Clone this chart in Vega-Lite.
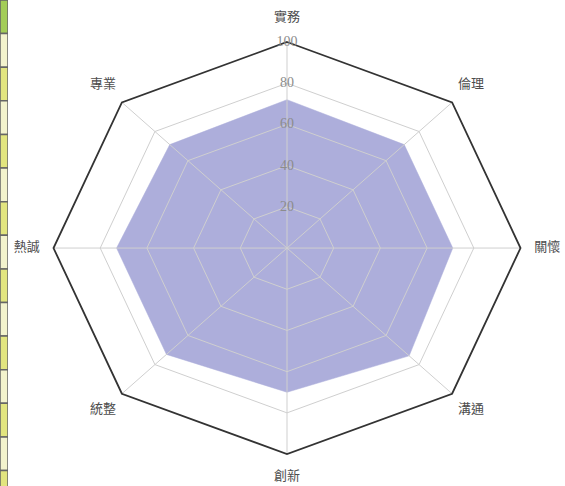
{
  "$schema": "https://vega.github.io/schema/vega-lite/v6.json",
  "padding": 0,
  "background": "white",
  "spacing": 0,
  "config": {"view": {"stroke": null}},
  "datasets": {
    "scores": [
      {"axis": "實務", "k": 0, "score": 72},
      {"axis": "倫理", "k": 1, "score": 71},
      {"axis": "關懷", "k": 2, "score": 71},
      {"axis": "溝通", "k": 3, "score": 74},
      {"axis": "創新", "k": 4, "score": 70},
      {"axis": "統整", "k": 5, "score": 73},
      {"axis": "熱誠", "k": 6, "score": 73},
      {"axis": "專業", "k": 7, "score": 71}
    ],
    "grid": [
      {"k": 0, "level": 20}, {"k": 1, "level": 20}, {"k": 2, "level": 20}, {"k": 3, "level": 20}, {"k": 4, "level": 20}, {"k": 5, "level": 20}, {"k": 6, "level": 20}, {"k": 7, "level": 20},
      {"k": 0, "level": 40}, {"k": 1, "level": 40}, {"k": 2, "level": 40}, {"k": 3, "level": 40}, {"k": 4, "level": 40}, {"k": 5, "level": 40}, {"k": 6, "level": 40}, {"k": 7, "level": 40},
      {"k": 0, "level": 60}, {"k": 1, "level": 60}, {"k": 2, "level": 60}, {"k": 3, "level": 60}, {"k": 4, "level": 60}, {"k": 5, "level": 60}, {"k": 6, "level": 60}, {"k": 7, "level": 60},
      {"k": 0, "level": 80}, {"k": 1, "level": 80}, {"k": 2, "level": 80}, {"k": 3, "level": 80}, {"k": 4, "level": 80}, {"k": 5, "level": 80}, {"k": 6, "level": 80}, {"k": 7, "level": 80},
      {"k": 0, "level": 100}, {"k": 1, "level": 100}, {"k": 2, "level": 100}, {"k": 3, "level": 100}, {"k": 4, "level": 100}, {"k": 5, "level": 100}, {"k": 6, "level": 100}, {"k": 7, "level": 100}
    ],
    "ticks": [{"tick": 20}, {"tick": 40}, {"tick": 60}, {"tick": 80}, {"tick": 100}],
    "strip": [
      {"row": 0, "cell": "header"}, {"row": 1, "cell": "light"}, {"row": 2, "cell": "yellow"},
      {"row": 3, "cell": "light"}, {"row": 4, "cell": "yellow"}, {"row": 5, "cell": "light"},
      {"row": 6, "cell": "yellow"}, {"row": 7, "cell": "light"}, {"row": 8, "cell": "yellow"},
      {"row": 9, "cell": "light"}, {"row": 10, "cell": "yellow"}, {"row": 11, "cell": "light"},
      {"row": 12, "cell": "yellow"}, {"row": 13, "cell": "light"}, {"row": 14, "cell": "yellow"}
    ]
  },
  "hconcat": [
    {
      "width": 8,
      "height": 486,
      "data": {"name": "strip"},
      "transform": [{"calculate": "datum.row + 1", "as": "rowEnd"}],
      "mark": {"type": "rect", "stroke": "#666666", "strokeWidth": 1.5, "clip": true},
      "encoding": {
        "y": {"field": "row", "type": "quantitative", "scale": {"domain": [0, 14.46], "reverse": true, "nice": false, "zero": false}, "axis": null},
        "y2": {"field": "rowEnd"},
        "color": {"field": "cell", "type": "nominal", "scale": {"domain": ["header", "light", "yellow"], "range": ["#a3cd57", "#f3f3cd", "#e2e57f"]}, "legend": null}
      }
    },
    {
      "width": 557,
      "height": 486,
      "encoding": {
        "x": {"field": "x", "type": "quantitative", "scale": {"domain": [-119.49, 119.06], "nice": false, "zero": false}, "axis": null},
        "y": {"field": "y", "type": "quantitative", "scale": {"domain": [-115.5, 120.4], "nice": false, "zero": false}, "axis": null}
      },
      "layer": [
        {
          "data": {"name": "scores"},
          "transform": [
            {"calculate": "datum.score * sin(datum.k * PI / 4)", "as": "x"},
            {"calculate": "datum.score * cos(datum.k * PI / 4)", "as": "y"}
          ],
          "mark": {"type": "line", "interpolate": "linear-closed", "filled": true, "fill": "#adaedb", "stroke": "#adaedb", "strokeWidth": 0.5},
          "encoding": {"order": {"field": "k", "type": "quantitative"}}
        },
        {
          "data": {"name": "grid"},
          "transform": [
            {"filter": "datum.level < 100"},
            {"calculate": "datum.level * sin(datum.k * PI / 4)", "as": "x"},
            {"calculate": "datum.level * cos(datum.k * PI / 4)", "as": "y"}
          ],
          "mark": {"type": "line", "interpolate": "linear-closed", "stroke": "#cfcfcf", "strokeWidth": 1},
          "encoding": {"order": {"field": "k", "type": "quantitative"}, "detail": {"field": "level", "type": "nominal"}}
        },
        {
          "data": {"name": "scores"},
          "transform": [
            {"calculate": "100 * sin(datum.k * PI / 4)", "as": "x"},
            {"calculate": "100 * cos(datum.k * PI / 4)", "as": "y"}
          ],
          "mark": {"type": "rule", "stroke": "#cfcfcf", "strokeWidth": 1},
          "encoding": {"x2": {"datum": 0}, "y2": {"datum": 0}}
        },
        {
          "data": {"name": "grid"},
          "transform": [
            {"filter": "datum.level == 100"},
            {"calculate": "datum.level * sin(datum.k * PI / 4)", "as": "x"},
            {"calculate": "datum.level * cos(datum.k * PI / 4)", "as": "y"}
          ],
          "mark": {"type": "line", "interpolate": "linear-closed", "stroke": "#333333", "strokeWidth": 1.8},
          "encoding": {"order": {"field": "k", "type": "quantitative"}}
        },
        {
          "data": {"name": "ticks"},
          "transform": [
            {"calculate": "0", "as": "x"},
            {"calculate": "datum.tick", "as": "y"}
          ],
          "mark": {"type": "text", "font": "Liberation Serif", "fontSize": 14, "color": "#8c8c8c", "align": "center", "baseline": "middle"},
          "encoding": {"text": {"field": "tick", "type": "quantitative"}}
        },
        {
          "data": {"name": "scores"},
          "transform": [
            {"calculate": "111.5 * sin(datum.k * PI / 4)", "as": "x"},
            {"calculate": "111.5 * cos(datum.k * PI / 4)", "as": "y"}
          ],
          "mark": {"type": "text", "font": "Noto Sans CJK TC", "fontSize": 13, "color": "#4d4d4d", "align": "center", "baseline": "middle", "dy": -1.5},
          "encoding": {"text": {"field": "axis", "type": "nominal"}}
        }
      ]
    }
  ]
}
